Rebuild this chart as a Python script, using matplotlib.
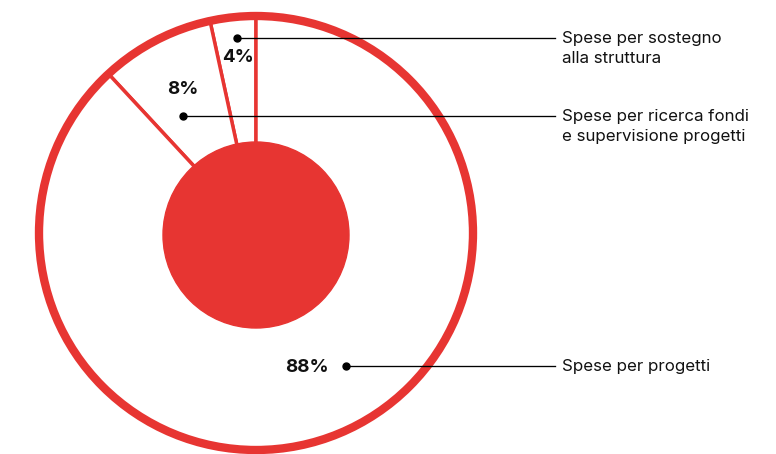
import matplotlib.pyplot as plt
from matplotlib.patches import Circle

plt.rcParams['font.family'] = ['Inter', 'DejaVu Sans']

# dati
categorie = ['Spese per sostegno\nalla struttura',
             'Spese per ricerca fondi\ne supervisione progetti',
             'Spese per progetti']
quote = [3.4, 8.5, 88.1]          # ampiezza degli spicchi come disegnati
etichette_pct = ['4%', '8%', '88%']

ROSSO = '#E73532'
W, H = 776, 454

fig = plt.figure(figsize=(W / 100, H / 100), dpi=100)
ax = fig.add_axes([0, 0, 1, 1])

cx, cy = 256, H - 233
R = 217

# spicchi bianchi con bordi rossi
ax.pie(quote, startangle=90, counterclock=True, center=(cx, cy), radius=R,
       colors=['white'] * len(quote),
       wedgeprops=dict(edgecolor=ROSSO, linewidth=2.5))
# anello esterno spesso
ax.add_patch(Circle((cx, cy), R, fill=False, edgecolor=ROSSO, linewidth=6, zorder=3))
# cerchio pieno interno
ax.add_patch(Circle((cx, cy - 2), 93, color=ROSSO, zorder=4))

# posizioni (pixel) di punto e percentuale
punti = [(237, 38), (183, 116), (346, 366)]
pos_pct = [(238, 58, 'center'), (183, 90, 'center'), (329, 367, 'right')]
x_fine = 555
x_testo = 562
interlinea = 19.5

for cat, pct, (px, py), (tx, ty, ha) in zip(categorie, etichette_pct, punti, pos_pct):
    ax.plot([px, x_fine], [H - py, H - py], color='black', lw=0.95, zorder=5)
    ax.plot(px, H - py, 'o', ms=5, color='black', zorder=6)
    ax.text(tx, H - ty, pct, ha=ha, va='center', fontsize=13.5,
            fontweight='bold', color='#111111', zorder=6)
    for k, riga in enumerate(cat.split('\n')):
        ax.text(x_testo, H - py - 5.5 - k * interlinea, riga, ha='left',
                va='baseline', fontsize=12.2, color='#111111', zorder=6)

ax.set_xlim(0, W)
ax.set_ylim(0, H)
ax.set_aspect('equal')
ax.axis('off')

fig.savefig('out.png', dpi=100, facecolor='white')
